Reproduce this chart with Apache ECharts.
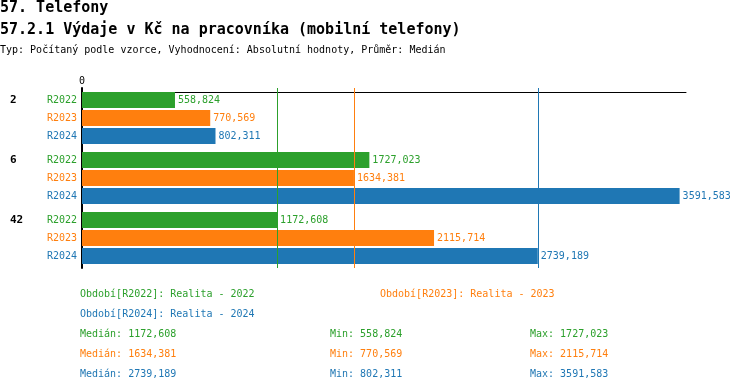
<!DOCTYPE html>
<html>
<head>
<meta charset="utf-8">
<script src="https://cdn.jsdelivr.net/npm/echarts@6/dist/echarts.min.js"></script>
<style>html,body{margin:0;padding:0;background:#fff}#c{width:750px;height:392px}</style>
</head>
<body>
<div id="c"></div>
<script>
const categories = ['2', '6', '42'];
const periods = ['R2022', 'R2023', 'R2024'];
const periodNames = ['Realita - 2022', 'Realita - 2023', 'Realita - 2024'];
const r2022 = [558.824, 1727.023, 1172.608];
const r2023 = [770.569, 1634.381, 2115.714];
const r2024 = [802.311, 3591.583, 2739.189];
const seriesValues = [r2022, r2023, r2024];
const colors = ['#2ca02c', '#ff7f0e', '#1f77b4'];
const titleText = '57. Telefony';
const subtitleText = '57.2.1 Výdaje v Kč na pracovníka (mobilní telefony)';
const infoText = 'Typ: Počítaný podle vzorce, Vyhodnocení: Absolutní hodnoty, Průměr: Medián';

const FONT = '"DejaVu Sans Mono", monospace';
const fmt = v => v.toFixed(3).replace('.', ',');
const median = arr => { const s = arr.slice().sort((a, b) => a - b); const n = s.length; return n % 2 ? s[(n - 1) / 2] : (s[n / 2 - 1] + s[n / 2]) / 2; };

const series = [];
periods.forEach((p, i) => {
  series.push({
    name: p + '-lbl', type: 'bar', stack: p, data: categories.map(() => 0),
    barWidth: 16, barGap: '12.5%', silent: true,
    itemStyle: { color: 'rgba(0,0,0,0)' },
    label: { show: true, position: 'left', distance: 5, formatter: p, color: colors[i], fontFamily: FONT, fontSize: 10 }
  });
  series.push({
    name: p, type: 'bar', stack: p, data: seriesValues[i],
    barWidth: 16, barGap: '12.5%', silent: true,
    itemStyle: { color: colors[i] },
    label: { show: true, position: 'right', distance: 3, formatter: o => fmt(o.value), color: colors[i], fontFamily: FONT, fontSize: 10 },
    markLine: {
      silent: true, symbol: 'none', label: { show: false },
      lineStyle: { color: colors[i], type: 'solid', width: 1 },
      data: [{ xAxis: median(seriesValues[i]) }]
    }
  });
});

const txt = (x, y, text, font, fill) => ({ type: 'text', x: x, y: y, style: { text: text, font: font, fill: fill, verticalAlign: 'middle', align: 'left' } });
const graphics = [
  txt(0, 8, titleText, 'bold 15px ' + FONT, '#000'),
  txt(0, 30, subtitleText, 'bold 15px ' + FONT, '#000'),
  txt(0, 50.5, infoText, '10px ' + FONT, '#000')
];
const legendPos = [[80, 294.5], [380, 294.5], [80, 314.5]];
periods.forEach((p, i) => {
  graphics.push(txt(legendPos[i][0], legendPos[i][1], 'Období[' + p + ']: ' + periodNames[i], '10px ' + FONT, colors[i]));
  const v = seriesValues[i];
  const y = 334.5 + i * 20;
  graphics.push(txt(80, y, 'Medián: ' + fmt(median(v)), '10px ' + FONT, colors[i]));
  graphics.push(txt(330, y, 'Min: ' + fmt(Math.min(...v)), '10px ' + FONT, colors[i]));
  graphics.push(txt(530, y, 'Max: ' + fmt(Math.max(...v)), '10px ' + FONT, colors[i]));
});

const chart = echarts.init(document.getElementById('c'), null, { renderer: 'canvas' });
chart.setOption({
  animation: false,
  backgroundColor: '#fff',
  grid: { left: 82, top: 88, width: 604, height: 180 },
  xAxis: {
    type: 'value', position: 'top', min: 0, max: 3630, interval: 3630, offset: -4,
    axisLine: { show: true, lineStyle: { color: '#000', width: 1 } },
    axisTick: { show: false }, splitLine: { show: false },
    axisLabel: { margin: 6, color: '#000', fontFamily: FONT, fontSize: 10, showMaxLabel: false, formatter: v => (v === 0 ? '0' : '') }
  },
  yAxis: {
    type: 'category', data: categories, inverse: true, offset: 1,
    axisLine: { show: true, lineStyle: { color: '#000', width: 2 } },
    axisTick: { show: false },
    axisLabel: { align: 'left', verticalAlign: 'middle', margin: 71, color: '#000', fontFamily: FONT, fontSize: 11, fontWeight: 'bold', lineHeight: 18, formatter: v => v + '\n \n ' }
  },
  series: series,
  graphic: graphics
});
</script>
</body>
</html>
